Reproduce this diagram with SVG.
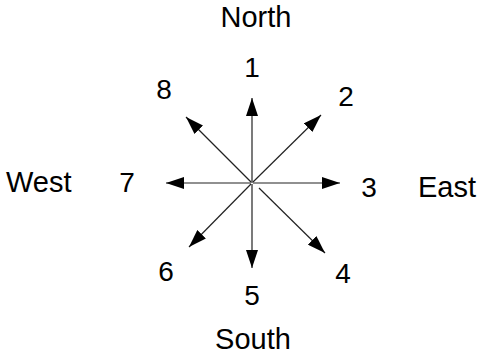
<svg xmlns="http://www.w3.org/2000/svg" width="482" height="360" viewBox="0 0 482 360">
<style>
text{font-family:"Liberation Sans",Arial,sans-serif;font-size:28px;fill:#000}
.lbl{font-size:29px}
.c{text-anchor:middle}
line{stroke:#222;stroke-width:1.2}
</style>
<defs>
<marker id="ah" markerUnits="userSpaceOnUse" markerWidth="18" markerHeight="12" refX="18" refY="6" orient="auto">
<path d="M0,0 L18,6 L0,12 z" fill="#000"/>
</marker>
</defs>
<rect width="482" height="360" fill="#fff"/>
<g id="connectors">
<line x1="252" y1="183" x2="252" y2="98" marker-end="url(#ah)"/>
<line x1="253" y1="182" x2="321" y2="115" marker-end="url(#ah)"/>
<line x1="253" y1="183" x2="340" y2="183" marker-end="url(#ah)"/>
<line x1="259" y1="188" x2="325" y2="253" marker-end="url(#ah)"/>
<line x1="252" y1="184" x2="252" y2="268" marker-end="url(#ah)"/>
<line x1="251" y1="184" x2="189" y2="247" marker-end="url(#ah)"/>
<line x1="251" y1="183" x2="166" y2="183" marker-end="url(#ah)"/>
<line x1="251" y1="182" x2="186" y2="117" marker-end="url(#ah)"/>
</g>
<g id="north"><text class="lbl c" x="256" y="27">North</text></g>
<g id="south"><text class="lbl c" x="253" y="349">South</text></g>
<g id="west"><text class="lbl" x="6" y="192">West</text></g>
<g id="east"><text class="lbl" x="418" y="197">East</text></g>
<g id="n1"><text class="c" x="252" y="77">1</text></g>
<g id="n2"><text class="c" x="346" y="106">2</text></g>
<g id="n3"><text class="c" x="369" y="197">3</text></g>
<g id="n4"><text class="c" x="343" y="283">4</text></g>
<g id="n5"><text class="c" x="252" y="305">5</text></g>
<g id="n6"><text class="c" x="166" y="281">6</text></g>
<g id="n7"><text class="c" x="127" y="192">7</text></g>
<g id="n8"><text class="c" x="164" y="99">8</text></g>
</svg>
